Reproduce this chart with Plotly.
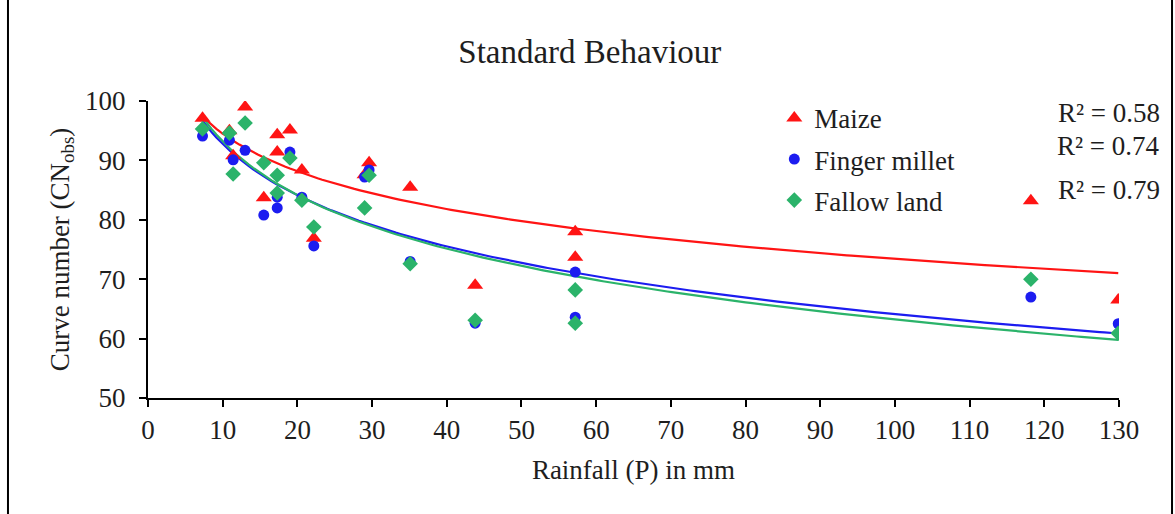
import numpy as np
import plotly.graph_objects as go

# Rainfall events (mm)
rainfall = [7.3, 10.9, 11.4, 13.0, 15.5, 17.3, 17.3, 19.0, 20.6, 22.2,
            29.0, 29.6, 35.1, 43.8, 57.2, 57.2, 118.2, 129.9]

# Observed curve numbers per land use
maize = [97.1, 95.0, 90.8, 99.0, 83.7, 94.3, 91.4, 95.1, 88.4, 76.9,
         87.6, 89.6, 85.5, 69.0, 78.0, 73.7, 83.2, 66.5]
finger_millet = [94.1, 93.4, 90.1, 91.7, 80.8, 83.8, 82.0, 91.4, 83.8, 75.6,
                 87.2, 88.4, 73.0, 62.6, 71.2, 63.6, 67.0, 62.5]
fallow_land = [95.3, 94.6, 87.7, 96.3, 89.6, 87.5, 84.5, 90.4, 83.3, 78.8,
               82.0, 87.5, 72.6, 63.1, 68.2, 62.6, 70.0, 60.9]

# Logarithmic trend lines: CN = a * ln(P) + b
trend_coef = {
    "Maize": (-9.16, 115.6),
    "Finger millet": (-12.44, 121.4),
    "Fallow land": (-13.03, 123.2),
}
r2_labels = ["R² = 0.58", "R² = 0.74", "R² = 0.79"]

x_ticks = list(range(0, 131, 10))
y_ticks = list(range(50, 101, 10))

RED = "#ff1414"
BLUE = "#1c1cf0"
GREEN = "#2bb36a"
FONT = "Liberation Serif"
TXT = "#1e1e1e"

fig = go.Figure()

series = [
    ("Maize", maize, RED, "triangle-up", 14),
    ("Finger millet", finger_millet, BLUE, "circle", 11),
    ("Fallow land", fallow_land, GREEN, "diamond", 12),
]

# trend curves drawn under the markers
p_fit = np.linspace(min(rainfall), max(rainfall), 200)
for name, _, color, _, _ in series:
    a, b = trend_coef[name]
    fig.add_trace(go.Scatter(
        x=p_fit, y=a * np.log(p_fit) + b, mode="lines",
        line=dict(color=color, width=2.2), showlegend=False,
        hoverinfo="skip",
    ))

for i, (name, vals, color, symbol, size) in enumerate(series):
    fig.add_trace(go.Scatter(
        x=rainfall, y=vals, mode="markers", name=name,
        legendgroup=f"g{i}",
        marker=dict(symbol=symbol, size=size, color=color, line=dict(width=0)),
    ))

# R² labels
r2_y = [0.9596, 0.8485, 0.7003]
for label, yy in zip(r2_labels, r2_y):
    fig.add_annotation(
        x=1.0443, y=yy, xref="paper", yref="paper", text=label,
        showarrow=False, xanchor="right", yanchor="middle",
        font=dict(family=FONT, size=27, color=TXT),
    )

# outer chart frame (left and right edges)
for xp in (-0.1442, 1.0546):
    fig.add_shape(type="line", xref="paper", yref="paper",
                  x0=xp, x1=xp, y0=-0.6, y1=1.5,
                  line=dict(color="black", width=2))

axis_common = dict(
    showgrid=False, zeroline=False, showline=True, linecolor="black",
    linewidth=2, ticks="outside", ticklen=7, tickwidth=2, tickcolor="black",
    tickfont=dict(family=FONT, size=27, color=TXT),
)

fig.update_layout(
    width=1175, height=514,
    margin=dict(l=148, r=56, t=101, b=116),
    paper_bgcolor="white", plot_bgcolor="white",
    title=dict(text="Standard Behaviour", x=0.455, xref="paper",
               y=0.899, yref="container", xanchor="center", yanchor="middle",
               font=dict(family=FONT, size=33, color=TXT)),
    xaxis=dict(range=[0, 130], tickvals=x_ticks, **axis_common,
               title=dict(text="Rainfall (P) in mm", standoff=16,
                          font=dict(family=FONT, size=27, color=TXT))),
    yaxis=dict(range=[50, 100], tickvals=y_ticks, ticklabelstandoff=8,
               **axis_common,
               title=dict(text="Curve number (CN<sub>obs</sub>)", standoff=8,
                          font=dict(family=FONT, size=27, color=TXT))),
    legend=dict(x=0.645, y=1.024, xanchor="left", yanchor="top",
                bgcolor="rgba(0,0,0,0)", tracegroupgap=3,
                traceorder="grouped",
                font=dict(family=FONT, size=27, color=TXT)),
)

fig.write_html("out.html")
